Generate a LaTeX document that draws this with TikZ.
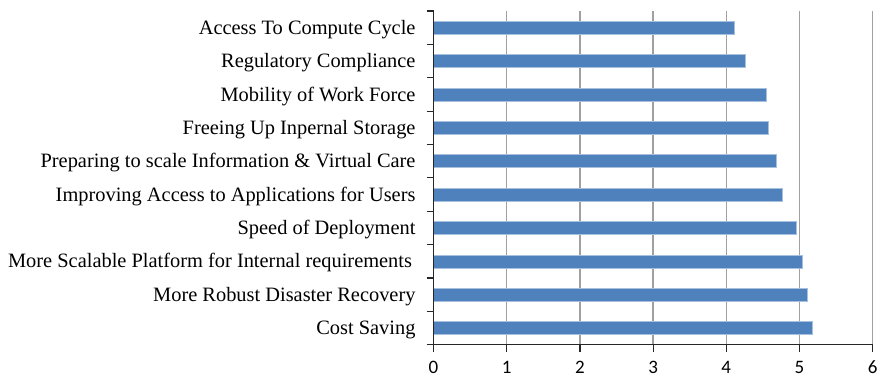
\documentclass[tikz,border=0pt]{standalone}
\usepackage{fontspec}
\setmainfont{Liberation Serif}
\newfontfamily\axisfont{Carlito}
\definecolor{barblue}{HTML}{4F81BD}
\definecolor{baredge}{HTML}{A7C0DE}
\definecolor{gridgray}{HTML}{A0A0A0}
\begin{document}
\begin{tikzpicture}[x=1pt,y=-1pt,
  gridline/.style={draw=gridgray,line width=1.3pt},
  axisline/.style={draw=black!85,line width=1.2pt},
  barrect/.style={fill=barblue,draw=baredge,line width=0.5pt},
  catlabel/.style={font=\fontsize{20.4}{22}\selectfont,inner sep=0pt,anchor=base east},
  ticklabel/.style={font=\axisfont\fontsize{19}{21}\selectfont,inner sep=0pt,anchor=base}]
\useasboundingbox (0,0) rectangle (878,375);
\def\xo{433.5}
\def\un{73.2}
\def\ytop{11}
\def\ybot{344.7}
\def\cat{33.37}
% vertical grid lines
\foreach \k in {1,...,6}
  \draw[gridline] ({\xo+\k*\un},\ytop) -- ({\xo+\k*\un},\ybot);
% bars and category labels
\foreach \v/\t [count=\i] in {
  4.11/Access To Compute Cycle,
  4.26/Regulatory Compliance,
  4.55/Mobility of Work Force,
  4.57/Freeing Up Inpernal Storage,
  4.68/Preparing to scale Information \& Virtual Care,
  4.76/Improving Access to Applications for Users,
  4.96/Speed of Deployment,
  5.04/More Scalable Platform for Internal requirements\kern3.5pt,
  5.11/More Robust Disaster Recovery,
  5.17/Cost Saving}{
  \pgfmathsetmacro\cy{\ytop+(\i-0.5)*\cat}
  \draw[barrect] (\xo,\cy-6.5) rectangle ({\xo+\v*\un},\cy+6.5);
  \node[catlabel] (lab\i) at (415.7,\cy+6.7) {\t};
}
% axes
\draw[axisline] (\xo,\ytop) -- (\xo,351.7);
\draw[axisline] (\xo,\ybot) -- ({\xo+6*\un},\ybot);
\foreach \k in {0,...,10}
  \draw[axisline] (426.5,{\ytop+\k*\cat}) -- (\xo,{\ytop+\k*\cat});
\foreach \k in {0,...,6}{
  \draw[axisline] ({\xo+\k*\un},\ybot) -- ({\xo+\k*\un},351.7);
  \node[ticklabel] (tick\k) at ({\xo+\k*\un},373.4) {\k};
}
\end{tikzpicture}
\end{document}
